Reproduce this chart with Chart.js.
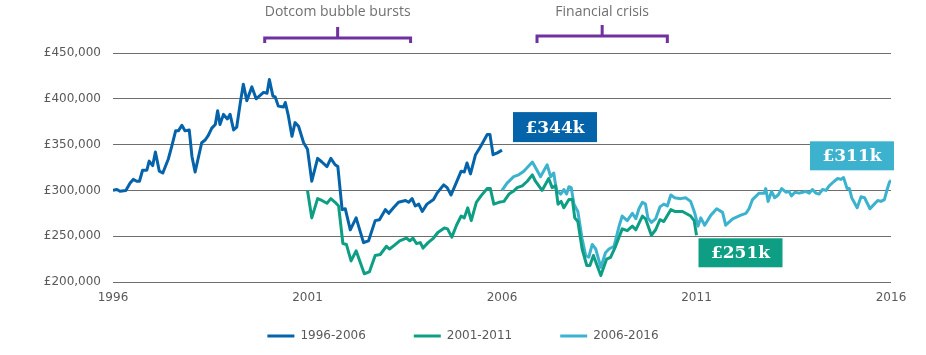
<!DOCTYPE html>
<html>
<head>
<meta charset="utf-8">
<script src="https://cdn.jsdelivr.net/npm/chart.js@4.4.1/dist/chart.umd.min.js"></script>
<style>
html,body{margin:0;padding:0;background:#fff;}
#wrap{width:926px;height:355px;position:relative;}
</style>
</head>
<body>
<div id="wrap"><canvas id="c"></canvas></div>
<script>
// ---- Data (values in £ thousands) ----
const seriesNames = ['1996-2006', '2001-2011', '2006-2016'];
const seriesColors = ['#0563AA', '#0E9E84', '#3DB2CE'];
const endLabels = ['£344k', '£251k', '£311k'];

const s1Dates = [1996.0,1996.1,1996.18,1996.33,1996.44,1996.52,1996.61,1996.68,1996.76,1996.87,
1996.93,1997.02,1997.09,1997.19,1997.28,1997.42,1997.51,1997.61,1997.68,1997.77,
1997.85,1997.96,1998.03,1998.11,1998.28,1998.37,1998.45,1998.54,1998.63,1998.69,
1998.75,1998.84,1998.94,1999.01,1999.10,1999.18,1999.27,1999.35,1999.44,1999.57,
1999.68,1999.87,1999.96,2000.02,2000.11,2000.17,2000.25,2000.38,2000.43,2000.51,
2000.60,2000.68,2000.77,2000.90,2001.00,2001.11,2001.26,2001.37,2001.50,2001.60,
2001.71,2001.78,2001.89,2001.97,2002.10,2002.25,2002.44,2002.57,2002.74,2002.85,
2003.00,2003.09,2003.21,2003.34,2003.52,2003.60,2003.69,2003.77,2003.86,2003.95,
2004.07,2004.24,2004.33,2004.50,2004.59,2004.69,2004.82,2004.95,2005.03,2005.10,
2005.19,2005.32,2005.45,2005.62,2005.69,2005.77,2005.88,2006.0];
const s1Values = [300,301,299,300,308,312,310,310,322,322,
332,327,342,321,319,334,348,365,365,371,
365,366,337,320,352,355,360,368,372,387,
372,383,378,383,366,369,395,416,398,413,
400,407,406,421,403,402,392,391,396,381,
359,374,370,352,345,310,335,331,326,335,
328,326,279,280,257,270,243,245,267,268,
279,275,281,287,289,287,291,283,285,277,
285,290,297,306,303,295,308,321,320,330,
318,339,348,361,361,339,341,344];

const s2Dates = [2001.00,2001.11,2001.26,2001.37,2001.50,2001.60,2001.71,2001.80,2001.91,2002.00,
2002.12,2002.25,2002.46,2002.59,2002.74,2002.87,2003.03,2003.11,2003.23,2003.37,
2003.54,2003.63,2003.71,2003.80,2003.90,2003.97,2004.10,2004.24,2004.35,2004.52,
2004.60,2004.71,2004.83,2004.95,2005.03,2005.12,2005.21,2005.34,2005.46,2005.62,
2005.70,2005.79,2005.92,2006.05,2006.18,2006.29,2006.39,2006.52,2006.65,2006.78,
2006.86,2007.03,2007.20,2007.29,2007.38,2007.44,2007.52,2007.59,2007.72,2007.81,
2007.87,2007.95,2008.06,2008.18,2008.26,2008.35,2008.54,2008.69,2008.79,2008.92,
2009.09,2009.22,2009.35,2009.44,2009.61,2009.69,2009.84,2009.95,2010.06,2010.16,
2010.34,2010.44,2010.64,2010.85,2010.94,2011.0];
const s2Values = [300,270,291,289,286,291,287,283,242,241,
223,234,209,211,229,230,239,236,240,245,
248,245,248,242,243,237,243,248,254,259,
258,249,262,272,270,281,267,287,294,302,
302,285,287,288,296,299,303,305,310,317,
310,300,313,303,305,285,288,281,290,290,
270,266,236,218,218,229,207,225,227,239,
258,256,261,257,272,269,251,257,268,266,
279,277,277,272,267,251];

const s3Dates = [2006.0,2006.13,2006.30,2006.43,2006.56,2006.65,2006.78,2006.86,2006.99,2007.16,
2007.25,2007.33,2007.40,2007.51,2007.59,2007.66,2007.72,2007.78,2007.85,2007.95,
2008.06,2008.15,2008.23,2008.32,2008.41,2008.54,2008.66,2008.75,2008.88,2009.01,
2009.09,2009.22,2009.35,2009.44,2009.52,2009.61,2009.69,2009.75,2009.84,2009.95,
2010.06,2010.16,2010.25,2010.34,2010.44,2010.59,2010.72,2010.85,2010.95,2011.04,
2011.11,2011.21,2011.37,2011.52,2011.67,2011.75,2011.93,2012.14,2012.27,2012.35,
2012.44,2012.61,2012.74,2012.78,2012.84,2012.93,2013.01,2013.10,2013.19,2013.30,
2013.38,2013.44,2013.53,2013.64,2013.73,2013.81,2013.90,2013.98,2014.07,2014.15,
2014.24,2014.33,2014.41,2014.54,2014.63,2014.71,2014.78,2014.87,2014.93,2014.99,
2015.13,2015.23,2015.32,2015.46,2015.57,2015.66,2015.74,2015.83,2015.90,2015.96,
2016.0];
const s3Values = [300,308,315,317,321,325,331,325,315,328,
315,319,300,296,301,296,304,303,285,277,
247,229,227,241,236,216,232,236,239,261,
272,267,275,269,280,287,285,270,265,269,
282,285,283,295,292,291,292,288,276,261,
270,262,273,280,276,262,269,273,275,280,
290,297,297,302,288,299,292,295,302,298,
299,294,298,297,298,299,297,301,297,296,
301,300,305,310,313,312,314,302,302,292,
281,293,292,280,285,289,288,290,301,309,
311];

const xTicks = [1996, 2001, 2006, 2011, 2016];
const yTicks = [200, 250, 300, 350, 400, 450];

const eventNames = ['Dotcom bubble bursts', 'Financial crisis'];
const eventStarts = [1999.9, 2006.9];
const eventEnds = [2003.65, 2010.25];

// ---- Build datasets ----
function pts(d, v) { return d.map((x, i) => ({ x: x, y: v[i] })); }
const allDates = [s1Dates, s2Dates, s3Dates];
const allValues = [s1Values, s2Values, s3Values];
const datasets = seriesNames.map((n, i) => ({
  label: n,
  data: pts(allDates[i], allValues[i]),
  borderColor: seriesColors[i],
  backgroundColor: seriesColors[i],
  borderWidth: 3,
  pointRadius: 0,
  tension: 0,
  borderJoinStyle: 'round',
  pointStyle: 'line'
}));

const GRAY = '#595959';

// callout box placement (style offsets relative to series end point)
const calloutStyle = [
  { dx: 11, dy: -38, w: 84, h: 30 },
  { dx: 2, dy: 3, w: 84, h: 29 },
  { dx: -81, dy: -39, w: 84, h: 29 }
];

const decorPlugin = {
  id: 'decor',
  afterDatasetsDraw(chart) {
    const ctx = chart.ctx;
    const xs = chart.scales.x;
    const ys = chart.scales.y;
    ctx.save();
    eventNames.forEach((name, i) => {
      const x0 = xs.getPixelForValue(eventStarts[i]);
      const x1 = xs.getPixelForValue(eventEnds[i]);
      const xc = (x0 + x1) / 2;
      const yh = i === 0 ? 38 : 36;
      ctx.strokeStyle = '#7030A0';
      ctx.lineWidth = 3;
      ctx.lineCap = 'butt';
      ctx.lineJoin = 'miter';
      ctx.beginPath();
      ctx.moveTo(x0, 43);
      ctx.lineTo(x0, yh);
      ctx.lineTo(x1, yh);
      ctx.lineTo(x1, 43);
      ctx.moveTo(xc, yh);
      ctx.lineTo(xc, yh - 11);
      ctx.stroke();
      ctx.fillStyle = '#707070';
      ctx.font = '14px "Open Sans"';
      ctx.textAlign = 'center';
      ctx.textBaseline = 'middle';
      ctx.fillText(name, xc, 12);
    });
    allDates.forEach((d, i) => {
      const v = allValues[i];
      const px = xs.getPixelForValue(d[d.length - 1]);
      const py = ys.getPixelForValue(v[v.length - 1]);
      const s = calloutStyle[i];
      const bx = px + s.dx, by = py + s.dy;
      ctx.fillStyle = seriesColors[i];
      ctx.fillRect(bx, by, s.w, s.h);
      ctx.fillStyle = '#ffffff';
      ctx.font = 'bold 17px "DejaVu Serif"';
      ctx.textAlign = 'center';
      ctx.textBaseline = 'middle';
      ctx.fillText(endLabels[i], bx + s.w / 2, by + s.h / 2 + 1);
    });
    ctx.restore();
  }
};

new Chart(document.getElementById('c'), {
  type: 'line',
  data: { datasets: datasets },
  plugins: [decorPlugin],
  options: {
    responsive: true,
    maintainAspectRatio: false,
    animation: false,
    layout: { padding: { top: 53, right: 35, left: 35, bottom: 3 } },
    plugins: {
      tooltip: { enabled: false },
      legend: {
        position: 'bottom',
        labels: {
          usePointStyle: true,
          pointStyleWidth: 27,
          padding: 48,
          color: GRAY,
          font: { family: '"DejaVu Sans"', size: 12 }
        }
      }
    },
    scales: {
      x: {
        type: 'linear',
        position: { y: 200 },
        min: 1996,
        max: 2016,
        afterBuildTicks(scale) { scale.ticks = xTicks.map(v => ({ value: v })); },
        grid: { display: false, drawTicks: false },
        border: { display: false },
        ticks: {
          padding: 10,
          color: GRAY,
          font: { family: '"DejaVu Sans"', size: 12, lineHeight: 1 },
          maxRotation: 0,
          autoSkip: false,
          callback: v => String(v)
        }
      },
      y: {
        min: 200,
        max: 450,
        afterBuildTicks(scale) { scale.ticks = yTicks.map(v => ({ value: v })); },
        afterFit(scale) { scale.width = 78; },
        grid: { color: '#6e6e6e', lineWidth: 1, drawTicks: false },
        border: { display: false },
        ticks: {
          padding: 12,
          color: GRAY,
          font: { family: '"DejaVu Sans"', size: 12 },
          callback: v => '£' + v + ',000'
        }
      }
    }
  }
});
</script>
</body>
</html>
